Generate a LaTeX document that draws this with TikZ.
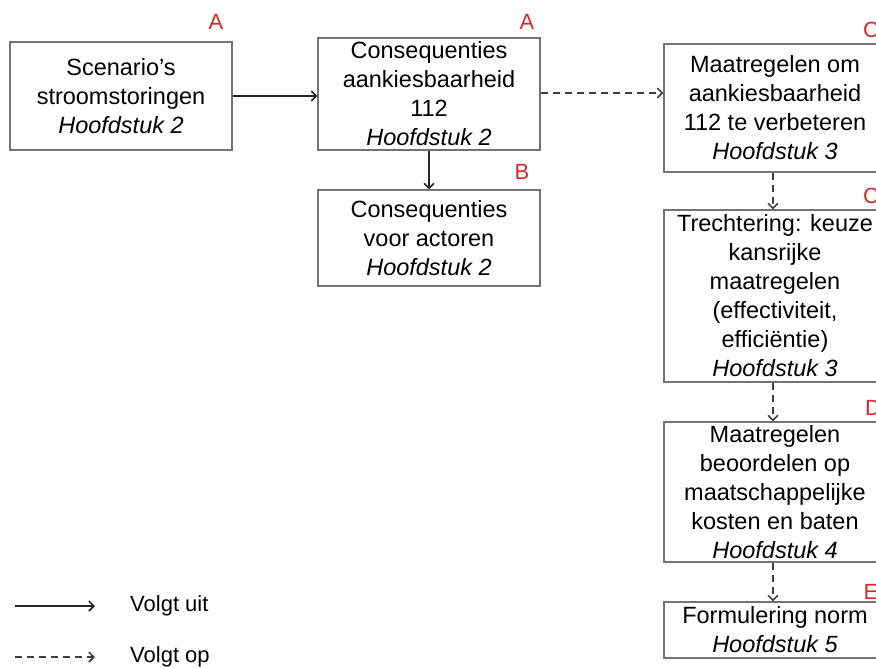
\documentclass[tikz,border=0pt]{standalone}
\usepackage{fontspec}
\setmainfont{Liberation Sans}
\usetikzlibrary{arrows.meta}
\definecolor{tagred}{RGB}{214,40,40}
\tikzset{
	box node/.style={draw=black!55, line width=1.1pt, minimum width=222pt, inner sep=0pt, align=center,
		font=\fontsize{23.5}{29}\selectfont},
	tag node/.style={text=tagred, inner sep=0pt, font=\fontsize{22}{26}\selectfont},
	legend node/.style={anchor=west, inner sep=0pt, font=\fontsize{22}{26}\selectfont},
	follows/.style={draw=black!85, line width=1.3pt, -{Straight Barb[length=5pt,width=10pt,line width=1.6pt]}},
	next/.style={follows, draw=black!75, dash pattern=on 7pt off 5pt},
}

\begin{document}
\begin{tikzpicture}[x=1pt, y=-1pt]
  \useasboundingbox (0,0) rectangle (876,668);
  \clip (0,0) rectangle (876,668);

  % left column
  \node[box node, minimum height=108pt] (scen) at (121,96)
    {Scenario’s\\stroomstoringen\\\textit{Hoofdstuk 2}};
  \node[box node, minimum height=112pt] (aank) at (429,94)
    {Consequenties\\aankiesbaarheid\\112\\\textit{Hoofdstuk 2}};
  \node[box node, minimum height=96pt] (act) at (429,238)
    {Consequenties\\voor actoren\\\textit{Hoofdstuk 2}};

  % right column
  \node[box node, minimum height=128pt] (maat) at (775,108)
    {Maatregelen om\\aankiesbaarheid\\112 te verbeteren\\\textit{Hoofdstuk 3}};
  \node[box node, minimum height=172pt] (trech) at (775,296)
    {Trechtering: keuze\\kansrijke\\maatregelen\\(effectiviteit,\\efficiëntie)\\\textit{Hoofdstuk 3}};
  \node[box node, minimum height=140pt] (beoord) at (775,492)
    {Maatregelen\\beoordelen op\\maatschappelijke\\kosten en baten\\\textit{Hoofdstuk 4}};
  \node[box node, minimum height=56pt] (norm) at (775,630)
    {Formulering norm\\\textit{Hoofdstuk 5}};

  % tags
  \node[tag node] (tagscen) at (216,22) {A};
  \node[tag node] (tagaank) at (527,22) {A};
  \node[tag node] (tagact) at (522,172) {B};
  \node[tag node] (tagmaat) at (871,30) {C};
  \node[tag node] (tagtrech) at (871,196) {C};
  \node[tag node] (tagbeoord) at (873,408) {D};
  \node[tag node] (tagnorm) at (871,592) {E};

  % connectors
  \draw[follows] (scen.east |- 0,96) -- (aank.west |- 0,96);
  \draw[follows] (aank) -- (act);
  \draw[next] (aank.east |- 0,93) -- (maat.west |- 0,93);
  \draw[next] (maat.south -| 773,0) -- (trech.north -| 773,0);
  \draw[next] (trech.south -| 773,0) -- (beoord.north -| 773,0);
  \draw[next] (beoord.south -| 773,0) -- (norm.north -| 773,0);

  % legend
  \coordinate (uitA) at (15,606);
  \coordinate (uitB) at (95,606);
  \coordinate (opA) at (15,657);
  \coordinate (opB) at (95,657);
  \draw[follows] (uitA) -- (uitB);
  \draw[next] (opA) -- (opB);
  \node[legend node] (uit) at (130,606) {Volgt uit};
  \node[legend node] (op) at (130,657) {Volgt op};
\end{tikzpicture}
\end{document}
